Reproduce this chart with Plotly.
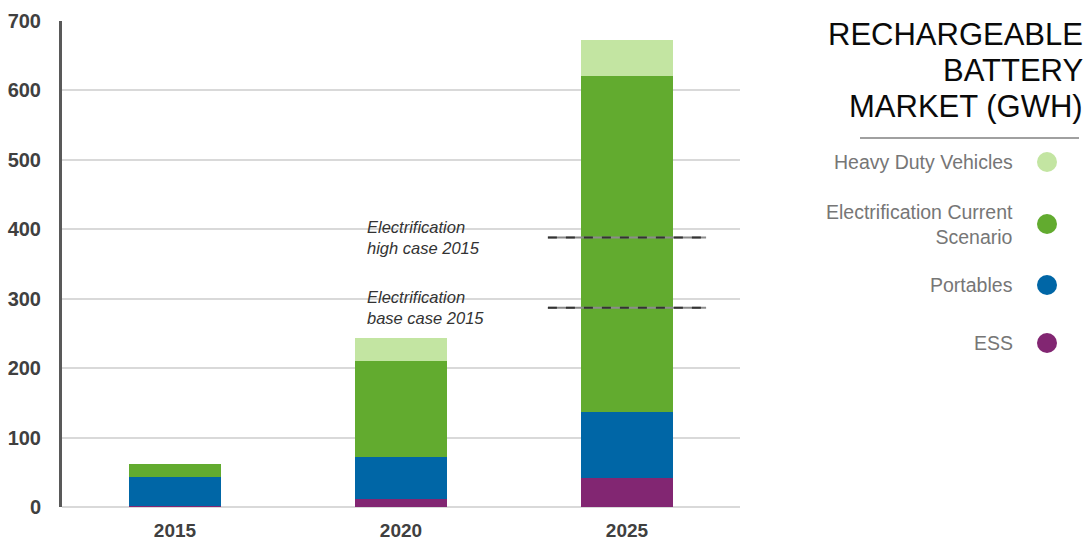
import plotly.graph_objects as go

# ---- data ----
years = ["2015", "2020", "2025"]
ess = [1, 11, 42]
portables = [42, 61, 95]
electrification = [19, 138, 484]
heavy_duty = [0, 33, 52]

series_names = ["ESS", "Portables", "Electrification Current Scenario", "Heavy Duty Vehicles"]
series_values = [ess, portables, electrification, heavy_duty]
series_colors = ["#822672", "#0066a6", "#62ab2f", "#c3e5a2"]

ref_labels = ["Electrification<br>high case 2015", "Electrification<br>base case 2015"]
ref_values = [388, 287]

title_lines = ["RECHARGEABLE", "BATTERY", "MARKET (GWH)"]
legend_labels = ["Heavy Duty Vehicles", "Electrification Current<br>Scenario", "Portables", "ESS"]
legend_colors = ["#c3e5a2", "#62ab2f", "#0066a6", "#822672"]

W, H = 1092, 540
L, R, T, B = 62, 352, 21, 33
PW, PH = W - L - R, H - T - B

def px(x):
    return (x - L) / PW

def py(y):
    return (H - B - y) / PH

FONT = "Arial, Liberation Sans, sans-serif"

fig = go.Figure()
for name, vals, col in zip(series_names, series_values, series_colors):
    fig.add_trace(go.Bar(x=years, y=vals, name=name, marker=dict(color=col, line=dict(width=0)),
                         width=0.41, showlegend=False))

shapes = []
annotations = []
for lab, val in zip(ref_labels, ref_values):
    shapes.append(dict(type="line", xref="x", yref="y", x0=1.65, x1=2.35, y0=val, y1=val,
                       line=dict(color="#8c8c8c", width=2)))
    shapes.append(dict(type="line", xref="x", yref="y", x0=1.65, x1=2.35, y0=val, y1=val,
                       line=dict(color="#333333", width=2, dash="dash")))
    annotations.append(dict(text="<i>" + lab.replace("<br>", "</i><br><i>") + "</i>",
                            xref="x", yref="y", x=0.84, y=val + 31, xanchor="left",
                            yanchor="top", align="left", showarrow=False,
                            font=dict(family=FONT, size=16.5, color="#333333")))

# legend title
for line, yy in zip(title_lines, [35, 70, 106]):
    annotations.append(dict(text=line, xref="paper", yref="paper",
                            x=px(1085), y=py(yy), xanchor="right", yanchor="middle", align="right",
                            showarrow=False, font=dict(family=FONT, size=31, color="#0a0a0a")))
shapes.append(dict(type="line", xref="paper", yref="paper", x0=px(860), x1=px(1079),
                   y0=py(138), y1=py(138), line=dict(color="#a0a0a0", width=2)))

leg_y = [162, 224, 285, 343]
for lab, col, yy in zip(legend_labels, legend_colors, leg_y):
    annotations.append(dict(text=lab, xref="paper", yref="paper", x=px(1015), y=py(yy),
                            xanchor="right", yanchor="middle", align="right", showarrow=False,
                            font=dict(family=FONT, size=19.5, color="#767676")))
    shapes.append(dict(type="circle", xref="paper", yref="paper", xsizemode="pixel",
                       ysizemode="pixel", xanchor=px(1047), yanchor=py(yy),
                       x0=-10, x1=10, y0=-10, y1=10, fillcolor=col, line=dict(width=0)))

fig.update_layout(
    barmode="stack",
    width=W, height=H,
    margin=dict(l=L, r=R, t=T, b=B, pad=0),
    plot_bgcolor="white", paper_bgcolor="white",
    shapes=shapes, annotations=annotations,
    xaxis=dict(range=[-0.5, 2.5], showgrid=False, showline=False, zeroline=False,
               automargin=False,
               ticks="outside", ticklen=6, tickcolor="rgba(0,0,0,0)",
               tickfont=dict(family=FONT, size=19, color="#404040", weight="bold")),
    yaxis=dict(range=[0, 700], dtick=100, showgrid=True, gridcolor="#d9d9d9", gridwidth=2,
               zeroline=True, zerolinecolor="#d9d9d9", zerolinewidth=2,
               showline=True, linecolor="#595959", linewidth=3, automargin=False,
               ticks="outside", ticklen=14, tickcolor="rgba(0,0,0,0)",
               tickfont=dict(family=FONT, size=20, color="#404040", weight="bold")),
)

fig.write_html("out.html")
